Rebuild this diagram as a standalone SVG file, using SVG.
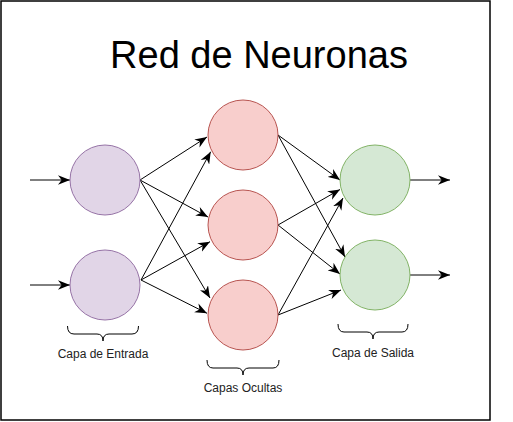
<svg xmlns="http://www.w3.org/2000/svg" width="513" height="422" viewBox="0 0 513 422">
<defs>
<marker id="arr" markerUnits="userSpaceOnUse" markerWidth="12" markerHeight="10" viewBox="0 0 10 8" refX="10" refY="4" orient="auto">
<path d="M0,0 L10,4 L0,8 L3,4 Z" fill="#000"/>
</marker>
<style>
.in{fill:#e1d5e7;stroke:#9673a6;stroke-width:1}
.hid{fill:#f8cecc;stroke:#b85450;stroke-width:1}
.out{fill:#d5e8d4;stroke:#82b366;stroke-width:1}
.e{stroke:#000;stroke-width:1;fill:none;marker-end:url(#arr)}
.br{fill:none;stroke:#000;stroke-width:1}
.lbl{font-family:"Liberation Sans",Arial,sans-serif;font-size:12px;fill:#222;text-anchor:middle}
.title{font-family:"Liberation Sans",Arial,sans-serif;font-size:38px;fill:#000;text-anchor:middle}
</style>
</defs>
<rect x="0" y="0" width="513" height="422" fill="#fff"/>
<rect x="1" y="1" width="489" height="419" fill="#fff" stroke="#000" stroke-width="1.5"/>
<text class="title" x="259" y="68">Red de Neuronas</text>
<g id="connectors">
<line class="e" x1="30" y1="180" x2="70" y2="180"/>
<line class="e" x1="30" y1="285" x2="70" y2="285"/>
<line class="e" x1="140" y1="180" x2="207" y2="137"/>
<line class="e" x1="140" y1="180" x2="208" y2="217"/>
<line class="e" x1="140" y1="180" x2="210" y2="298"/>
<line class="e" x1="141" y1="280" x2="210.7" y2="151.7"/>
<line class="e" x1="141" y1="280" x2="210" y2="241.7"/>
<line class="e" x1="141" y1="280" x2="207" y2="313.3"/>
<line class="e" x1="278" y1="135" x2="340" y2="180"/>
<line class="e" x1="278" y1="135" x2="345" y2="257"/>
<line class="e" x1="278" y1="225" x2="340" y2="189.5"/>
<line class="e" x1="278" y1="225" x2="340" y2="274"/>
<line class="e" x1="278" y1="315" x2="343" y2="198"/>
<line class="e" x1="278" y1="315" x2="341" y2="290"/>
<line class="e" x1="410" y1="180" x2="450" y2="180"/>
<line class="e" x1="410" y1="275" x2="450" y2="275"/>
</g>
<g id="in1"><circle class="in" cx="105" cy="180" r="35"/></g>
<g id="in2"><circle class="in" cx="105" cy="285" r="35"/></g>
<g id="h1"><circle class="hid" cx="243" cy="135" r="35"/></g>
<g id="h2"><circle class="hid" cx="243" cy="225" r="35"/></g>
<g id="h3"><circle class="hid" cx="243" cy="315" r="35"/></g>
<g id="o1"><circle class="out" cx="375" cy="180" r="35"/></g>
<g id="o2"><circle class="out" cx="375" cy="275" r="35"/></g>
<g id="brace-entrada">
<path class="br" d="M67.5,326 Q67.5,334 74,334 L97,334 Q103,334 103,341 Q103,334 109,334 L132,334 Q138.5,334 138.5,326"/>
<text class="lbl" x="103" y="358">Capa de Entrada</text>
</g>
<g id="brace-ocultas">
<path class="br" d="M207,360 Q207,368 213,368 L237,368 Q243,368 243,375 Q243,368 249,368 L273,368 Q279,368 279,360"/>
<text class="lbl" x="243" y="392">Capas Ocultas</text>
</g>
<g id="brace-salida">
<path class="br" d="M338,324 Q338,332 344,332 L367,332 Q373,332 373,339 Q373,332 379,332 L402,332 Q408,332 408,324"/>
<text class="lbl" x="373" y="357">Capa de Salida</text>
</g>
</svg>
